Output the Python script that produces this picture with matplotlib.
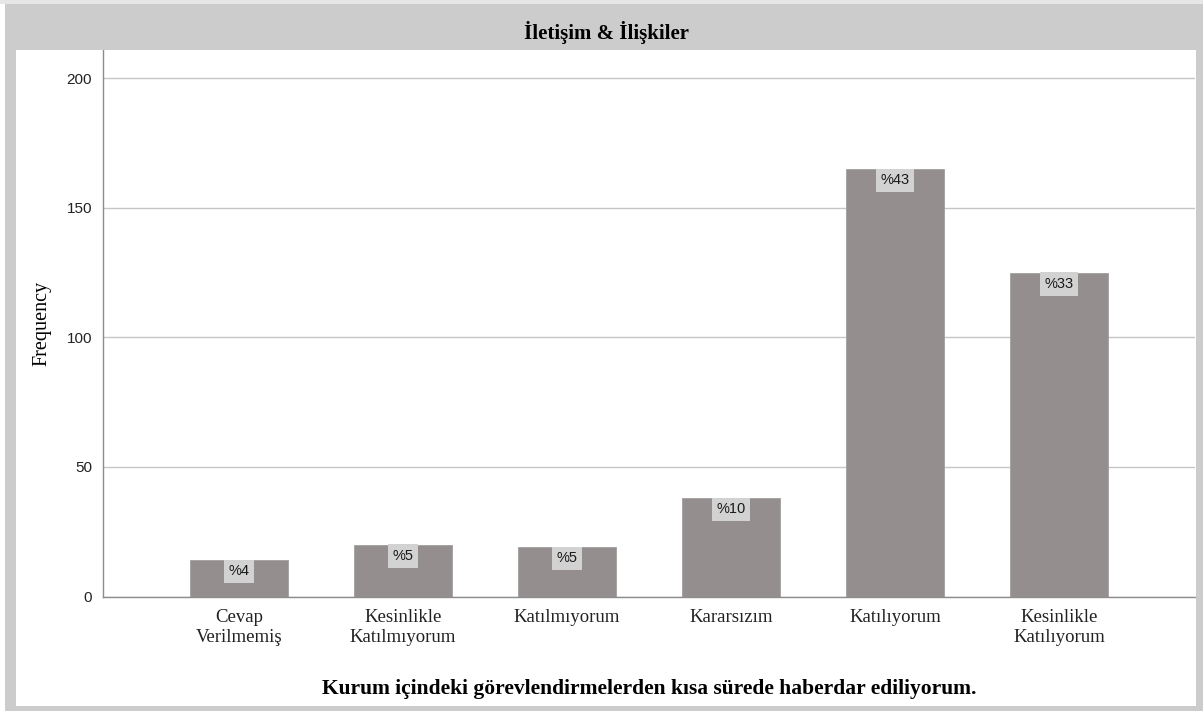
import matplotlib
matplotlib.use('Agg')
import matplotlib.pyplot as plt
from matplotlib.patches import Rectangle

# Data
categories = ['Cevap\nVerilmemiş', 'Kesinlikle\nKatılmıyorum', 'Katılmıyorum',
              'Kararsızım', 'Katılıyorum', 'Kesinlikle\nKatılıyorum']
frequencies = [14, 20, 19, 38, 165, 125]
percent_labels = ['%4', '%5', '%5', '%10', '%43', '%33']
y_ticks = [0, 50, 100, 150, 200]

W, H = 1203, 711
fig = plt.figure(figsize=(W / 100, H / 100), dpi=100)
fig.patch.set_facecolor('white')

frame_gray = '#cccccc'

def px_rect(x0, y0, x1, y1, color):
    # rectangle in pixel coords (origin top-left)
    fig.patches.append(Rectangle((x0 / W, 1 - y1 / H), (x1 - x0) / W, (y1 - y0) / H,
                                 transform=fig.transFigure, facecolor=color,
                                 edgecolor='none', zorder=0))

px_rect(0, 0, W, 4, '#e6e6e6')
px_rect(5, 4, W, 50, frame_gray)      # title band
px_rect(5, 4, 16, H, frame_gray)      # left border
px_rect(1196, 4, W, H, frame_gray)    # right border
px_rect(5, 706, W, H, frame_gray)     # bottom border

fig.text(606 / W, 1 - 32 / H, 'İletişim & İlişkiler', ha='center', va='center',
         family='Liberation Serif', fontweight='bold', fontsize=15)

ax = fig.add_axes([103 / W, 1 - 596.5 / H, (1195 - 103) / W, (596.5 - 50) / H])
ax.set_facecolor('white')

x = list(range(len(categories)))
bars = ax.bar(x, frequencies, width=0.6, color='#948f8e', edgecolor='#a29e9d',
              linewidth=0.6, zorder=3)

for xi, v, lab in zip(x, frequencies, percent_labels):
    ax.annotate(lab, (xi, v), xytext=(0, -3), textcoords='offset points',
                ha='center', va='top', family='Liberation Sans', fontsize=10.5,
                color='#1a1a1a', zorder=5,
                bbox=dict(boxstyle='square,pad=0.32', facecolor='#d2d2d2',
                          edgecolor='none'))

ax.set_xlim(-0.83, 5.83)
ax.set_ylim(0, 211)
ax.set_yticks(y_ticks)
ax.set_yticklabels([str(t) for t in y_ticks], family='Liberation Sans', fontsize=11)
ax.set_xticks(x)
ax.set_xticklabels(categories, family='Liberation Serif', fontsize=13.5,
                   linespacing=1.2)
ax.tick_params(axis='both', length=0, pad=8, colors='#222222')
ax.tick_params(axis='x', pad=9)

ax.yaxis.grid(True, color='#c6c6c6', linewidth=1.0, zorder=1)
ax.set_axisbelow(True)

for s in ['top', 'right']:
    ax.spines[s].set_visible(False)
ax.spines['left'].set_color('#8c8c8c')
ax.spines['bottom'].set_color('#8c8c8c')
ax.spines['left'].set_linewidth(1.0)
ax.spines['bottom'].set_linewidth(1.0)

ax.set_ylabel('Frequency', family='Liberation Serif', fontsize=14.5)
ax.yaxis.set_label_coords(-52 / (1195 - 103), 0.5)
ax.set_xlabel('Kurum içindeki görevlendirmelerden kısa sürede haberdar ediliyorum.',
              family='Liberation Serif', fontweight='bold', fontsize=15.5, labelpad=24)

plt.savefig('out.png', dpi=100)
